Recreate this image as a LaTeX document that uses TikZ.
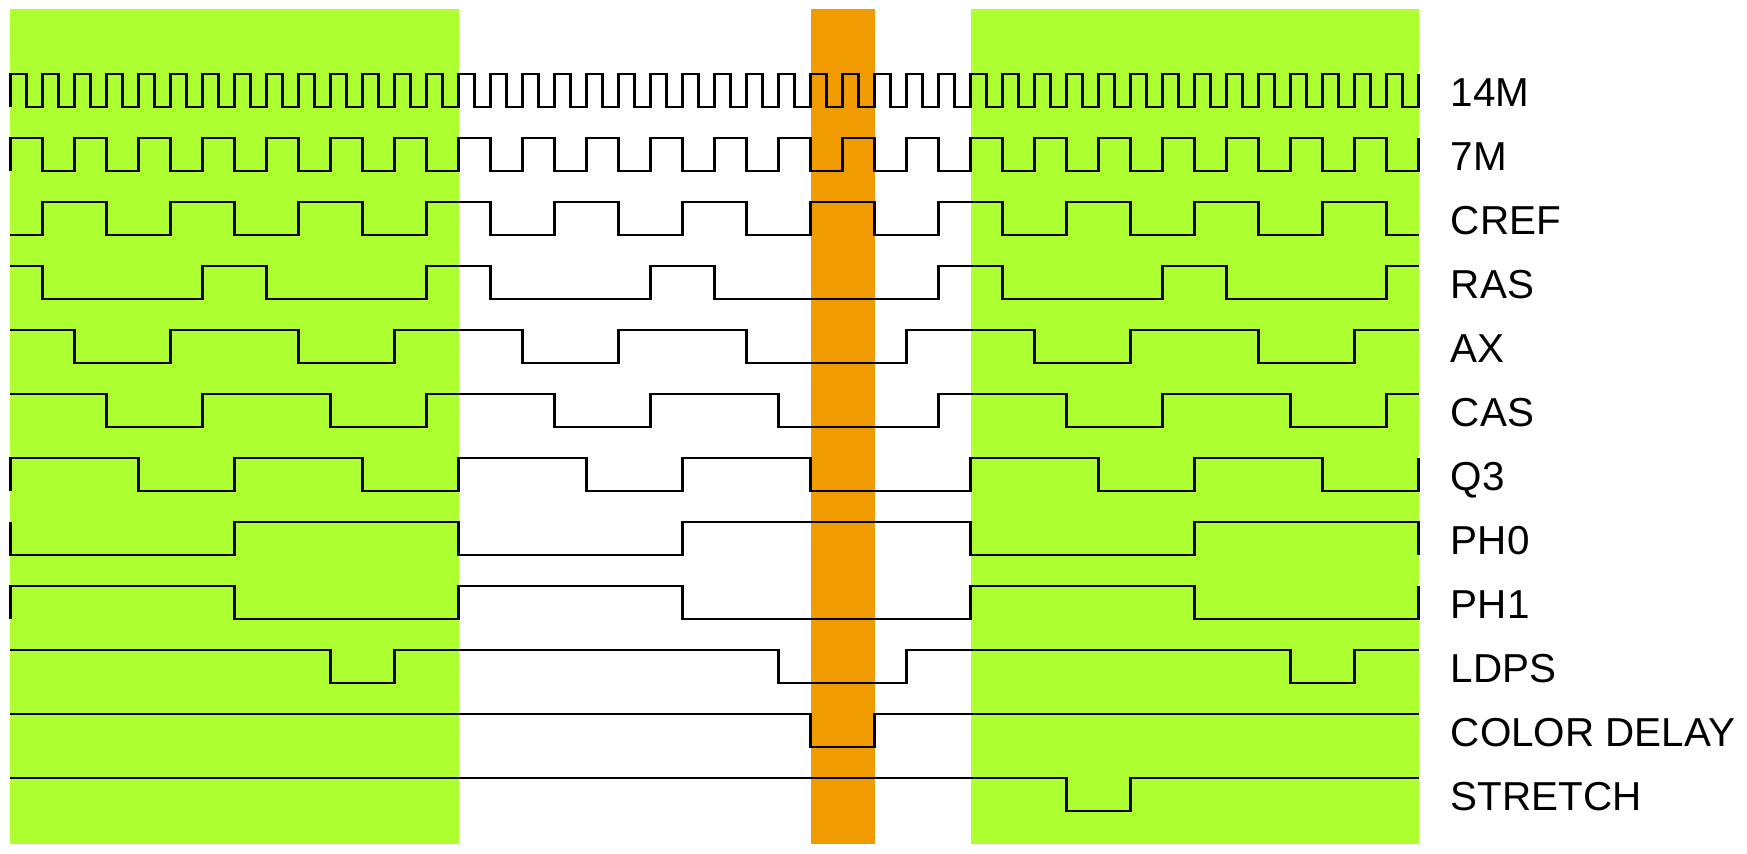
\documentclass[tikz,border=0pt]{standalone}
\usepackage{fontspec}
\setmainfont{Liberation Sans}
\usepackage{tikz}
\usetikzlibrary{positioning}
\definecolor{CycleGreen}{RGB}{173,255,47}
\definecolor{DelayOrange}{RGB}{240,155,0}

\begin{document}
\begin{tikzpicture}[x=8pt, y=-0.5pt,
    sig/.style={line width=1.3pt},
    lbl/.style={anchor=base west, inner sep=0pt, font=\fontsize{20.2pt}{24pt}\selectfont}]
      \useasboundingbox (-0.65625,0) rectangle (108.53125,854);
      % normal cycles and the colour delay window
      \fill[CycleGreen] (0,9) rectangle (28,844);
      \fill[CycleGreen] (60,9) rectangle (88,844);
      \fill[DelayOrange] (50,9) rectangle (54,844);
      % clocks
      \draw[sig] (0,107) \foreach \t in {0,2,...,86} { -- (\t,74) -- (\t+1,74) -- (\t+1,107) -- (\t+2,107) } -- (88,74);
      \draw[sig] (0,171) \foreach \t in {0,4,...,84} { -- (\t,138) -- (\t+2,138) -- (\t+2,171) -- (\t+4,171) } -- (88,138);
      \draw[sig] (0,235) \foreach \t in {2,10,...,82} { -| (\t,202) -| (\t+4,235) } -- (88,235);
      % ram timing
      \draw[sig] (0,266) -| (2,299) -| (12,266) -| (16,299) -| (26,266) -| (30,299) -| (40,266) -| (44,299) -| (58,266) -| (62,299) -| (72,266) -| (76,299) -| (86,266) -- (88,266);
      \draw[sig] (0,330) -| (4,363) -| (10,330) -| (18,363) -| (24,330) -| (32,363) -| (38,330) -| (46,363) -| (56,330) -| (64,363) -| (70,330) -| (78,363) -| (84,330) -- (88,330);
      \draw[sig] (0,394) -| (6,427) -| (12,394) -| (20,427) -| (26,394) -| (34,427) -| (40,394) -| (48,427) -| (58,394) -| (66,427) -| (72,394) -| (80,427) -| (86,394) -- (88,394);
      \draw[sig] (0,491) -- (0,458) -| (8,491) -| (14,458) -| (22,491) -| (28,458) -| (36,491) -| (42,458) -| (50,491) -| (60,458) -| (68,491) -| (74,458) -| (82,491) -| (88,458);
      % cpu phases
      \draw[sig] (0,522) -- (0,555) -| (14,522) -| (28,555) -| (42,522) -| (60,555) -| (74,522) -| (88,555);
      \draw[sig] (0,619) -- (0,586) -| (14,619) -| (28,586) -| (42,619) -| (60,586) -| (74,619) -| (88,586);
      % video
      \draw[sig] (0,650) -| (20,683) -| (24,650) -| (48,683) -| (56,650) -| (80,683) -| (84,650) -- (88,650);
      \draw[sig] (0,714) -| (50,747) -| (54,714) -- (88,714);
      \draw[sig] (0,778) -| (66,811) -| (70,778) -- (88,778);
      % signal names
      \node[lbl] (l14m) at (90,107) {14M};
      \node[lbl] (l7m) at (90,171) {7M};
      \node[lbl] (lcref) at (90,235) {CREF};
      \node[lbl] (lras) at (90,299) {RAS};
      \node[lbl] (lax) at (90,363) {AX};
      \node[lbl] (lcas) at (90,427) {CAS};
      \node[lbl] (lq3) at (90,491) {Q3};
      \node[lbl] (lph0) at (90,555) {PH0};
      \node[lbl] (lph1) at (90,619) {PH1};
      \node[lbl] (lldps) at (90,683) {LDPS};
      \node[lbl] (lcolor) at (90,747) {COLOR DELAY};
      \node[lbl] (lstretch) at (90,811) {STRETCH};
    \end{tikzpicture}
\end{document}
